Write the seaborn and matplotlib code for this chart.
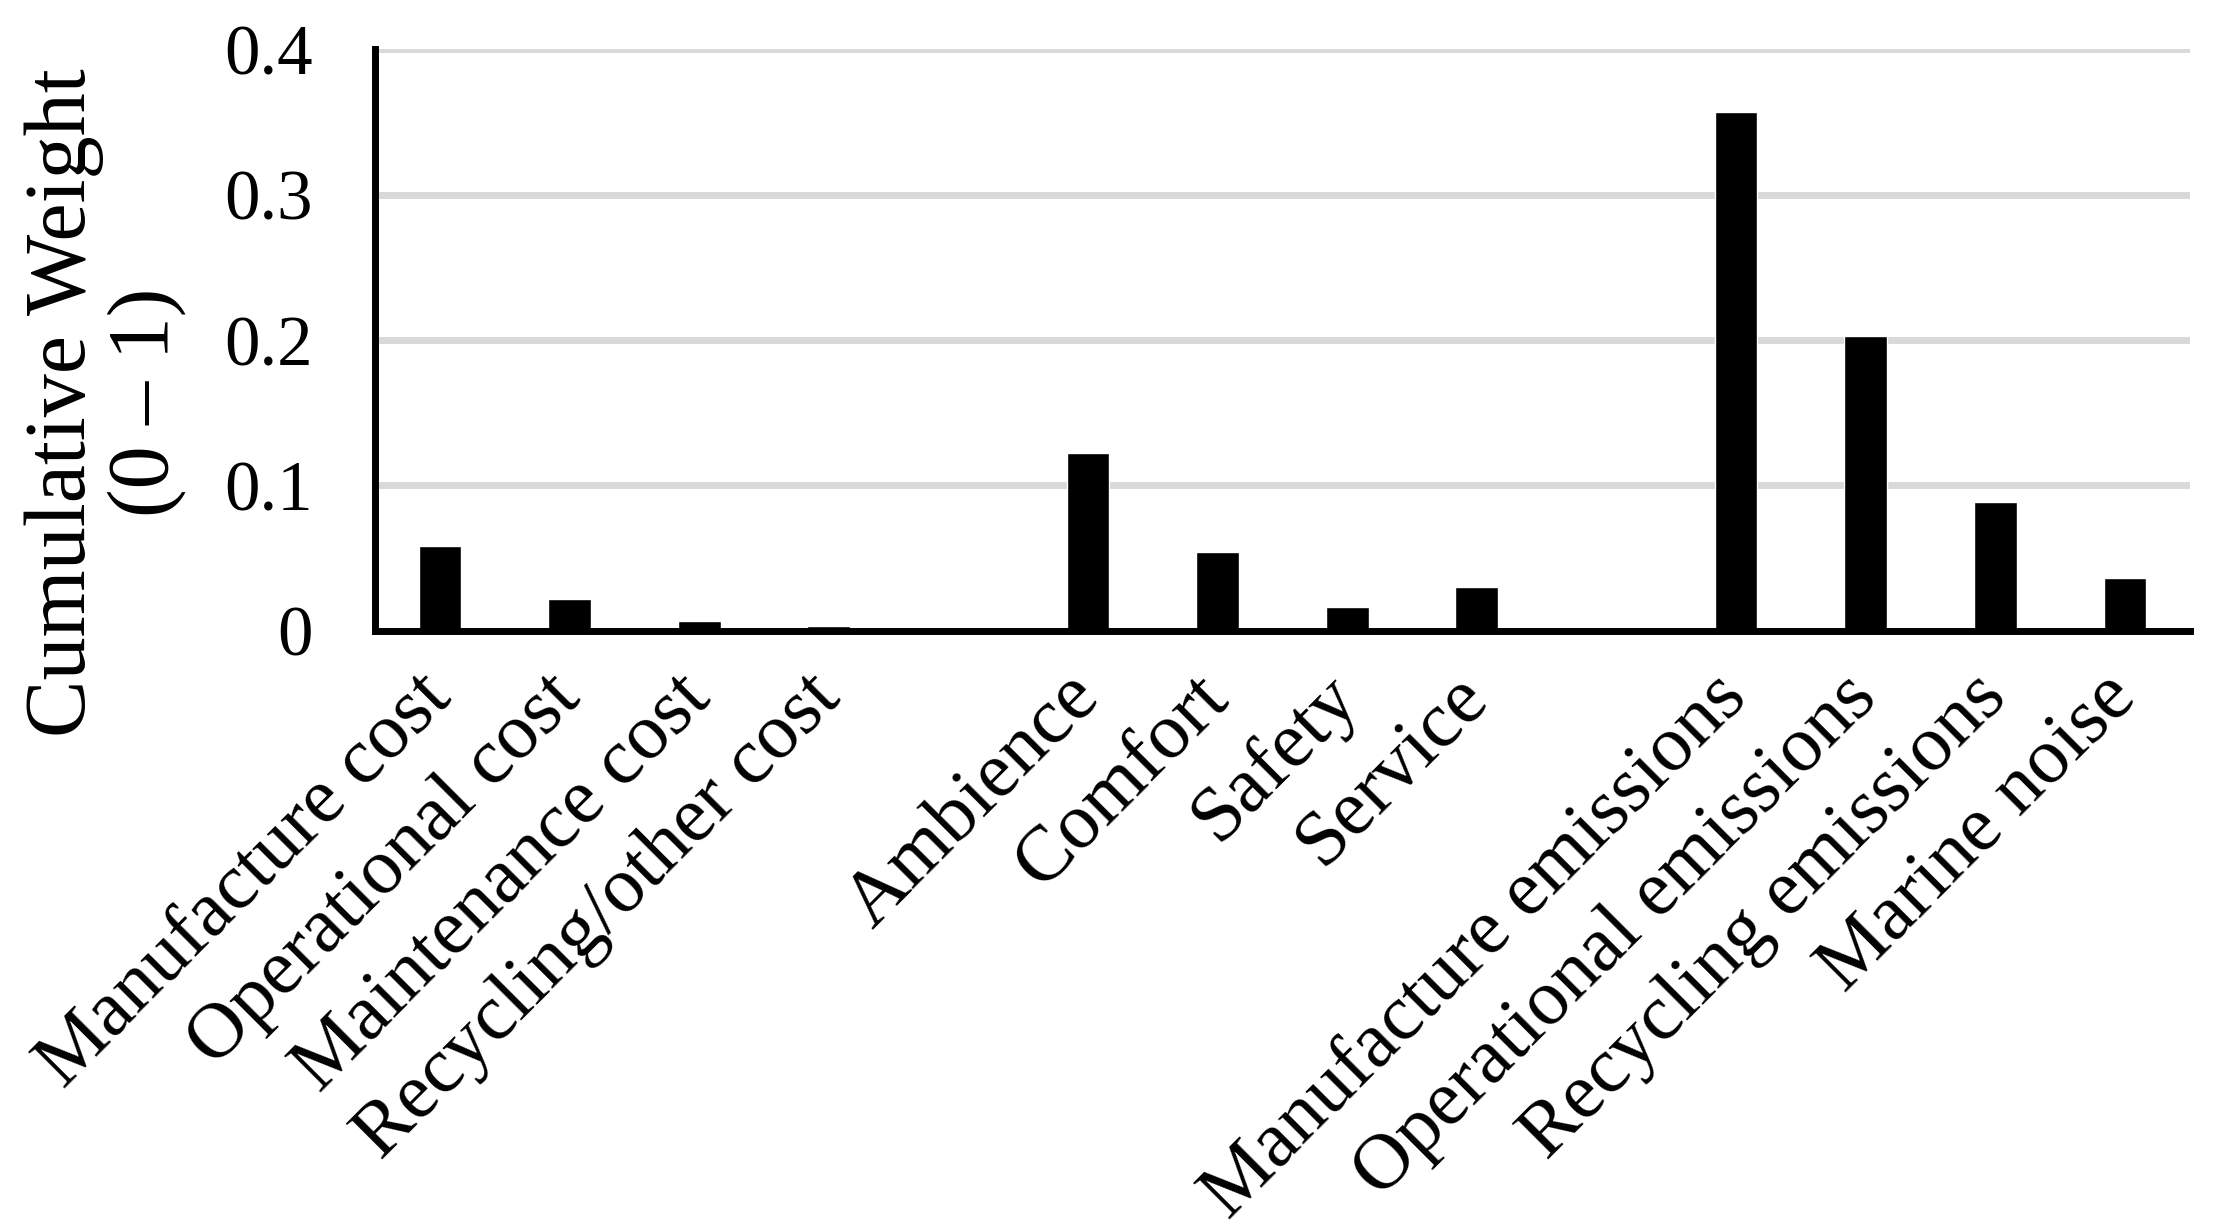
import matplotlib
matplotlib.use("Agg")
import matplotlib.pyplot as plt
import seaborn as sns
import pandas as pd

# Categories (blank slots separate the three groups)
categories = ["Manufacture cost", "Operational cost", "Maintenance cost", "Recycling/other cost", "",
              "Ambience", "Comfort", "Safety", "Service", " ",
              "Manufacture emissions", "Operational emissions", "Recycling emissions", "Marine noise"]
weights = [0.058, 0.022, 0.0068, 0.0035, 0.0,
           0.122, 0.054, 0.0165, 0.030, 0.0,
           0.357, 0.203, 0.0885, 0.036]
yticks = [0, 0.1, 0.2, 0.3, 0.4]
ytick_labels = ["0", "0.1", "0.2", "0.3", "0.4"]

df = pd.DataFrame({"cat": categories, "w": weights})

sns.set_style("white")
plt.rcParams["font.family"] = ["Liberation Serif", "DejaVu Serif"]
plt.rcParams["text.color"] = "black"
plt.rcParams["xtick.color"] = "black"
plt.rcParams["ytick.color"] = "black"
plt.rcParams["axes.labelcolor"] = "black"

fig = plt.figure(figsize=(22.13, 12.32), dpi=100)
ax = fig.add_axes([0.1695, 0.488, 0.82, 0.472])

sns.barplot(data=df, x="cat", y="w", order=categories, color="black",
            width=0.33, saturation=1, ax=ax)

ax.set_ylim(0, 0.4)
ax.set_xlim(-0.5, len(categories) - 0.5)
ax.set_yticks(yticks)
ax.set_yticklabels(ytick_labels, fontsize=51)
ax.yaxis.grid(True, color="#d9d9d9", linewidth=5)
ax.set_axisbelow(True)

for s in ["top", "right"]:
    ax.spines[s].set_visible(False)
for s in ["left", "bottom"]:
    ax.spines[s].set_linewidth(5)
    ax.spines[s].set_color("black")

ax.tick_params(axis="y", length=0, pad=45)
ax.tick_params(axis="x", length=0, pad=40)
ax.set_xticks(range(len(categories)))
ax.set_xticklabels(categories, rotation=45, ha="right", va="center",
                   rotation_mode="anchor", fontsize=57)

ax.set_xlabel("")
ax.set_ylabel("Cumulative Weight\n(0 \u2013 1)", fontsize=62, linespacing=1.05)
ax.yaxis.set_label_coords(-0.104, 0.393)

fig.savefig("out.png", dpi=100)
